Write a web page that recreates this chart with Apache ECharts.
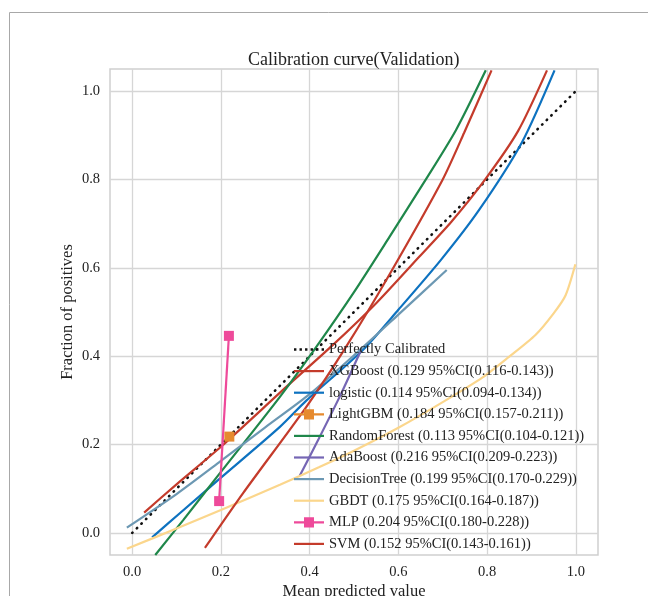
<!DOCTYPE html>
<html>
<head>
<meta charset="utf-8">
<script src="https://cdn.jsdelivr.net/npm/echarts@6/dist/echarts.min.js"></script>
<style>
  html, body { margin: 0; padding: 0; background: #fff; }
  #chart { width: 648px; height: 596px; }
</style>
</head>
<body>
<div id="chart"></div>
<script>
// tick values
var tickValues = [0, 0.2, 0.4, 0.6, 0.8, 1.0];

// calibration curves, [mean predicted, fraction of positives]
var perfect = [[0, 0], [1, 1]];
var xgboost = [[0.027, 0.046], [0.1, 0.11], [0.2, 0.195], [0.348, 0.331], [0.452, 0.425], [0.55, 0.52],
  [0.647, 0.625], [0.72, 0.705], [0.797, 0.802], [0.87, 0.91], [0.935, 1.047]];
var logistic = [[0.045, -0.01], [0.108, 0.045], [0.2, 0.125], [0.333, 0.24], [0.393, 0.3], [0.52, 0.414],
  [0.6, 0.505], [0.696, 0.618], [0.782, 0.731], [0.879, 0.885], [0.952, 1.047]];
var lightgbm = [[0.219, 0.218]];
var randomForest = [[0.052, -0.05], [0.115, 0.029], [0.2, 0.138], [0.333, 0.308], [0.415, 0.421], [0.5, 0.545],
  [0.58, 0.67], [0.662, 0.8], [0.73, 0.912], [0.797, 1.047]];
var adaboost = [[0.378, 0.13], [0.42, 0.212], [0.47, 0.313], [0.516, 0.414]];
var decisionTree = [[-0.012, 0.012], [0.1, 0.088], [0.2, 0.163], [0.3, 0.239], [0.4, 0.314], [0.5, 0.402],
  [0.6, 0.494], [0.709, 0.595]];
var gbdt = [[-0.012, -0.036], [0.1, 0.01], [0.2, 0.052], [0.333, 0.109], [0.422, 0.149], [0.5, 0.186],
  [0.6, 0.238], [0.7, 0.296], [0.79, 0.352], [0.85, 0.399], [0.909, 0.448], [0.95, 0.497],
  [0.977, 0.538], [0.999, 0.608]];
var mlp = [[0.196, 0.072], [0.218, 0.446]];
var svm = [[0.164, -0.034], [0.25, 0.09], [0.393, 0.286], [0.482, 0.421], [0.58, 0.585], [0.7, 0.8],
  [0.748, 0.905], [0.81, 1.047]];

var names = [
  'Perfectly Calibrated',
  'XGBoost (0.129 95%CI(0.116-0.143))',
  'logistic (0.114 95%CI(0.094-0.134))',
  'LightGBM (0.184 95%CI(0.157-0.211))',
  'RandomForest (0.113 95%CI(0.104-0.121))',
  'AdaBoost (0.216 95%CI(0.209-0.223))',
  'DecisionTree (0.199 95%CI(0.170-0.229))',
  'GBDT (0.175 95%CI(0.164-0.187))',
  'MLP (0.204 95%CI(0.180-0.228))',
  'SVM (0.152 95%CI(0.143-0.161))'
];

// legend icons: plain line, line with square, dotted line
var iconLine = 'path://M0,0 L30,0 L30,2.2 L0,2.2 Z';
var iconSquare = 'path://M0,4 L10,4 L10,0 L20,0 L20,4 L30,4 L30,6.2 L20,6.2 L20,10.2 L10,10.2 L10,6.2 L0,6.2 Z';
var iconDots = 'path://M0,0 h2.4 v2.4 h-2.4 Z M5.5,0 h2.4 v2.4 h-2.4 Z M11,0 h2.4 v2.4 h-2.4 Z ' +
  'M16.5,0 h2.4 v2.4 h-2.4 Z M22,0 h2.4 v2.4 h-2.4 Z M27.5,0 h2.4 v2.4 h-2.4 Z';

var font = 'Liberation Serif, Times New Roman, serif';
var chart = echarts.init(document.getElementById('chart'));

function curve(name, data, color, marker) {
  return {
    name: name,
    type: 'line',
    data: data,
    symbol: marker ? 'rect' : 'none',
    symbolSize: 10,
    showSymbol: !!marker,
    smooth: marker ? false : 0.25,
    itemStyle: { color: color },
    lineStyle: { color: color, width: 2.2 },
    emphasis: { disabled: true },
    clip: true
  };
}

var legendData = names.map(function (n, i) {
  var icon = iconLine;
  if (i === 0) icon = iconDots;
  if (i === 3 || i === 8) icon = iconSquare;
  return { name: n, icon: icon };
});

chart.setOption({
  animation: false,
  title: {
    text: 'Calibration curve(Validation)',
    left: 243,
    top: 46,
    textStyle: { fontFamily: font, fontSize: 18, fontWeight: 'normal', color: '#222' }
  },
  graphic: [
    { type: 'polyline', shape: { points: [[9.5, 596], [9.5, 12.5], [648, 12.5]] },
      style: { stroke: '#a8a8a8', lineWidth: 1, fill: null } }
  ],
  grid: {
    left: 110, right: 50, top: 69, bottom: 41,
    outerBoundsMode: 'none',
    containLabel: false,
    show: true, borderColor: '#cfcfcf', borderWidth: 1.5, backgroundColor: '#fff'
  },
  legend: {
    orient: 'vertical',
    left: 289,
    top: 337,
    itemWidth: 30,
    itemHeight: 14,
    itemGap: 6.6,
    data: legendData,
    textStyle: { fontFamily: font, fontSize: 14.5, color: '#222', lineHeight: 14 }
  },
  xAxis: {
    type: 'value',
    min: -0.05,
    max: 1.05,
    name: 'Mean predicted value',
    nameLocation: 'middle',
    nameGap: 28,
    nameMoveOverlap: false,
    nameTextStyle: { fontFamily: font, fontSize: 16.5, color: '#222' },
    axisLine: { show: false },
    axisTick: { show: false, customValues: tickValues },
    axisLabel: {
      customValues: tickValues, margin: 10,
      fontFamily: font, fontSize: 14.5, color: '#222',
      formatter: function (v) { return v.toFixed(1); }
    },
    splitLine: { show: true, lineStyle: { color: '#d6d6d6', width: 1.3 } }
  },
  yAxis: {
    type: 'value',
    min: -0.05,
    max: 1.05,
    name: 'Fraction of positives',
    nameLocation: 'middle',
    nameGap: 34,
    nameMoveOverlap: false,
    nameTextStyle: { fontFamily: font, fontSize: 16.5, color: '#222' },
    axisLine: { show: false },
    axisTick: { show: false, customValues: tickValues },
    axisLabel: {
      customValues: tickValues, margin: 10,
      fontFamily: font, fontSize: 14.5, color: '#222',
      formatter: function (v) { return v.toFixed(1); }
    },
    splitLine: { show: true, lineStyle: { color: '#d6d6d6', width: 1.3 } }
  },
  series: [
    {
      name: names[0],
      type: 'line',
      data: perfect,
      symbol: 'none',
      itemStyle: { color: '#111' },
      lineStyle: { color: '#111', width: 2.6, type: [0.5, 6], cap: 'round' },
      emphasis: { disabled: true }
    },
    curve(names[1], xgboost, '#c43b2b'),
    curve(names[2], logistic, '#0d72c0'),
    curve(names[3], lightgbm, '#e68a2e', true),
    curve(names[4], randomForest, '#1f874a'),
    curve(names[5], adaboost, '#7566b4'),
    curve(names[6], decisionTree, '#6c98b3'),
    curve(names[7], gbdt, '#fbd68c'),
    curve(names[8], mlp, '#ee4a9a', true),
    curve(names[9], svm, '#c43b2b')
  ]
});
</script>
</body>
</html>
